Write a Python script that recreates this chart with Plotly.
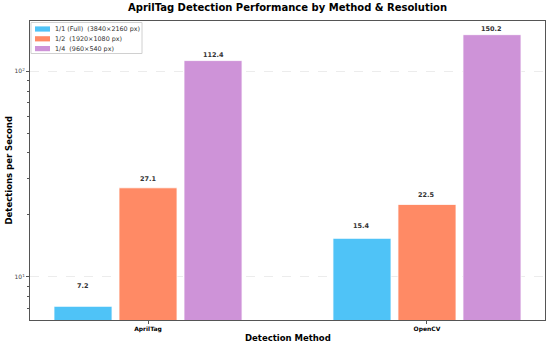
import plotly.graph_objects as go
import math

methods = ["AprilTag", "OpenCV"]
series_names = ["1/1 (Full)  (3840×2160 px)", "1/2  (1920×1080 px)", "1/4  (960×540 px)"]
full_vals = [7.2, 15.4]
half_vals = [27.1, 22.5]
quarter_vals = [112.4, 150.2]
colors = ["#4FC3F7", "#FF8A65", "#CE93D8"]
ytick_vals = [10, 100]
ytick_text = ["10<sup>1</sup>", "10<sup>2</sup>"]
minor_vals = [7, 8, 9, 20, 30, 40, 50, 60, 70, 80, 90]

all_vals = [full_vals, half_vals, quarter_vals]
offsets = [-0.337, -0.104, 0.129]
bar_w = 0.208

W, H = 550, 346
ML, MR, MT, MB = 30, 5, 21, 26
PW, PH = W - ML - MR, H - MT - MB

def px_x(px):
    return (px - ML) / PW

def px_y(py):
    return 1 - (py - MT) / PH

fig = go.Figure()
for name, vals, col, off in zip(series_names, all_vals, colors, offsets):
    fig.add_trace(go.Bar(
        x=[0, 1], y=vals, name=name, marker=dict(color=col, line=dict(color="white", width=0.8)),
        width=bar_w, offset=off, hoverinfo="skip", showlegend=False))

annotations = []
for vals, off in zip(all_vals, offsets):
    for i, v in enumerate(vals):
        annotations.append(dict(
            x=i + off + bar_w / 2, y=math.log10(v * 1.05 + 1.5), xref="x", yref="y",
            text=f"<b>{v:.1f}</b>", showarrow=False, yanchor="middle",
            font=dict(size=6.5, color="#333333", family="DejaVu Sans")))

# title and axis titles
annotations.append(dict(text="<b>AprilTag Detection Performance by Method & Resolution</b>",
                        x=px_x(287), y=px_y(7.5), xref="paper", yref="paper", showarrow=False,
                        xanchor="center", yanchor="middle", font=dict(size=10, color="black")))
annotations.append(dict(text="<b>Detection Method</b>", x=px_x(287.5), y=px_y(338),
                        xref="paper", yref="paper", showarrow=False,
                        xanchor="center", yanchor="middle", font=dict(size=8.5, color="black")))
annotations.append(dict(text="<b>Detections per Second</b>", x=px_x(8), y=px_y(170.5),
                        xref="paper", yref="paper", showarrow=False, textangle=-90,
                        xanchor="center", yanchor="middle", font=dict(size=8.5, color="black")))

# legend (manual)
shapes = [dict(type="rect", xref="paper", yref="paper", x0=px_x(31), x1=px_x(142),
               y0=px_y(53.5), y1=px_y(22.5), line=dict(color="#d0d0d0", width=1),
               fillcolor="rgba(255,255,255,0.9)", layer="above")]
row_y = [29, 38.8, 48.6]
for name, col, ry in zip(series_names, colors, row_y):
    shapes.append(dict(type="rect", xref="paper", yref="paper", x0=px_x(35), x1=px_x(50),
                       y0=px_y(ry + 2.6), y1=px_y(ry - 2.6), line=dict(width=0),
                       fillcolor=col, layer="above"))
    annotations.append(dict(text=name, x=px_x(52.5), y=px_y(ry), xref="paper", yref="paper",
                            showarrow=False, xanchor="left", yanchor="middle",
                            font=dict(size=6.4, color="#333333")))

fig.update_layout(
    width=W, height=H,
    margin=dict(l=ML, r=MR, t=MT, b=MB, autoexpand=False),
    paper_bgcolor="white", plot_bgcolor="white",
    barmode="overlay",
    font=dict(family="DejaVu Sans", color="black"),
    showlegend=False,
    annotations=annotations,
    shapes=shapes,
)
fig.update_xaxes(
    range=[-0.423, 1.423], tickvals=[0, 1], ticktext=["<b>" + m + "</b>" for m in methods],
    tickfont=dict(size=6, color="black"), ticks="outside", ticklen=3, tickcolor="#555555",
    showline=True, linecolor="#555555", linewidth=1, mirror=True, showgrid=False,
    automargin=False,
)
fig.update_yaxes(
    type="log", range=[0.791, 2.243], tickvals=ytick_vals, ticktext=ytick_text,
    tickfont=dict(size=6, color="#444444"), ticks="outside", ticklen=3, tickcolor="#555555",
    showline=True, linecolor="#555555", linewidth=1, mirror=True,
    showgrid=True, gridcolor="#ececec", griddash="dash", gridwidth=0.8,
    minor=dict(tickvals=minor_vals, ticks="outside", ticklen=2, tickcolor="#555555", showgrid=False),
    automargin=False,
)
fig.write_html("out.html", config={"displayModeBar": False},
               post_script="document.body.style.margin='0';document.body.style.padding='0';")
